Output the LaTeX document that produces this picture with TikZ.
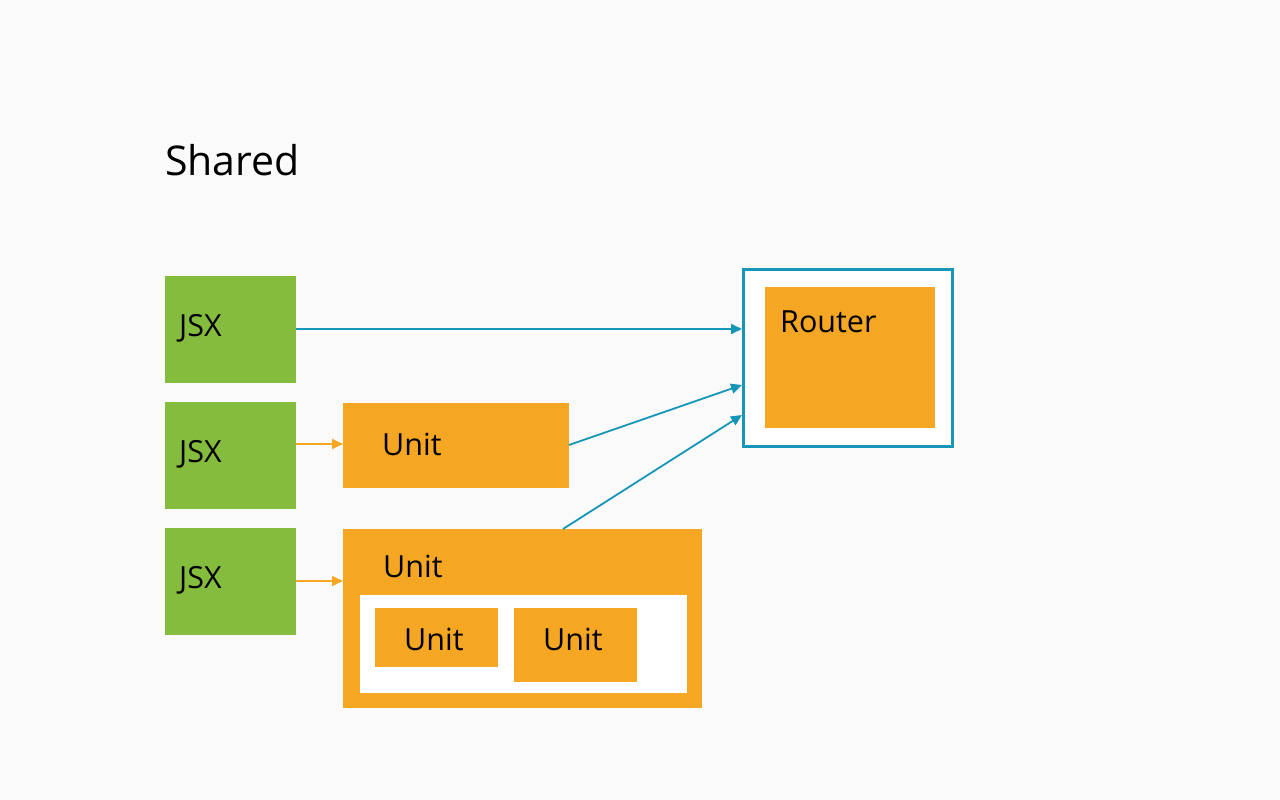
\documentclass[tikz,border=0pt]{standalone}
\usepackage{fontspec}
\setmainfont{Open Sans}
\usetikzlibrary{arrows.meta}
\definecolor{bg}{HTML}{FAFAFA}
\definecolor{jsxgreen}{HTML}{84BC3E}
\definecolor{unitorange}{HTML}{F5A623}
\definecolor{teal}{HTML}{1596B8}
\begin{document}
\begin{tikzpicture}[x=1pt,y=-1pt,
  lbl/.style={anchor=base west,inner sep=0pt,font=\fontsize{30.5}{33}\selectfont},
  tarrow/.style={draw=teal,line width=1.8pt,-{Triangle[length=11pt,width=10pt]}},
  oarrow/.style={draw=unitorange,line width=1.8pt,-{Triangle[length=11pt,width=10pt]}}]
\fill[bg] (0,0) rectangle (1280,800);
\useasboundingbox (0,0) rectangle (1280,800);
\node[anchor=base west,inner sep=0pt,font=\fontsize{41}{44}\selectfont] (title) at (165,175) {Shared};
% JSX boxes
\fill[jsxgreen] (165,276) rectangle (296,383);
\fill[jsxgreen] (165,402) rectangle (296,509);
\fill[jsxgreen] (165,528) rectangle (296,635);
\node[lbl] (j1) at (179,336) {JSX};
\node[lbl] (j2) at (179,462) {JSX};
\node[lbl] (j3) at (179,588) {JSX};
\coordinate (j1r) at (296,329);
\coordinate (j2r) at (296,444);
\coordinate (j3r) at (296,581);
% Unit 1
\fill[unitorange] (343,403) rectangle (569,488);
\node[lbl] (u1) at (382,455) {Unit};
\coordinate (u1l) at (343,444);
\coordinate (u1r) at (569,445);
% Unit big
\fill[unitorange] (343,529) rectangle (702,708);
\fill[white] (360,595) rectangle (687,693);
\node[lbl] (u2) at (383,577) {Unit};
\coordinate (u2l) at (343,581);
\coordinate (u2t) at (563,529);
\fill[unitorange] (375,608) rectangle (498,667);
\fill[unitorange] (514,608) rectangle (637,682);
\node[lbl] (u3) at (404,650) {Unit};
\node[lbl] (u4) at (543,650) {Unit};
% Router
\draw[teal,line width=2.6pt,fill=white] (743.3,269.3) rectangle (952.7,446.7);
\fill[unitorange] (765,287) rectangle (935,428);
\node[lbl] (r) at (780,332) {Router};
\coordinate (ra) at (742,329);
\coordinate (rb) at (742,385);
\coordinate (rc) at (742,415);
% arrows
\draw[tarrow] (j1r) -- (ra);
\draw[oarrow] (j2r) -- (u1l);
\draw[oarrow] (j3r) -- (u2l);
\draw[tarrow] (u1r) -- (rb);
\draw[tarrow] (u2t) -- (rc);
\end{tikzpicture}
\end{document}
